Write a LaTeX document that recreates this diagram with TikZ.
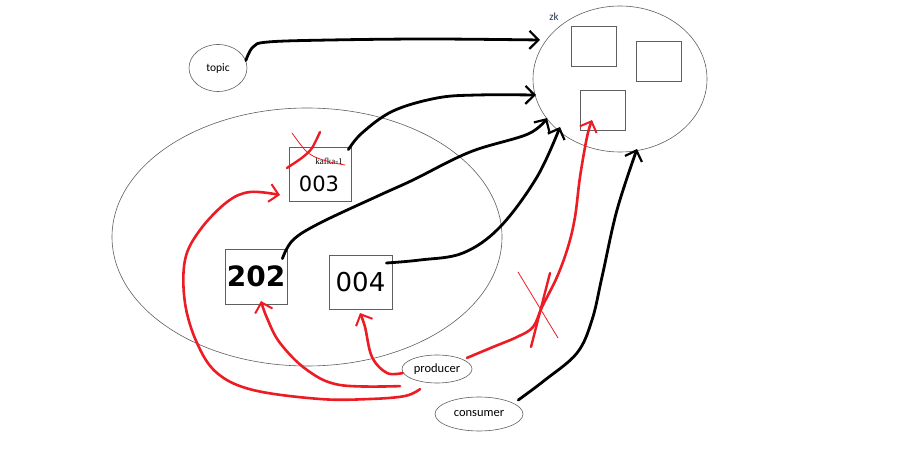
\documentclass[tikz,border=0pt]{standalone}
\usepackage{fontspec}
\setmainfont{Carlito}
\newfontfamily\serifk{Liberation Serif}
\newfontfamily\handf{DejaVu Sans}
\usetikzlibrary{shapes.geometric,arrows.meta,calc}
\definecolor{pred}{RGB}{237,28,36}
\definecolor{boxgray}{RGB}{95,95,95}
\definecolor{zkblue}{RGB}{40,55,85}
\begin{document}
\begin{tikzpicture}[x=1pt,y=-1pt,
  oval/.style={ellipse,draw=boxgray,line width=0.6pt,inner sep=0pt},
  sbox/.style={rectangle,draw=boxgray,line width=0.8pt,inner sep=0pt},
  lbl/.style={font=\fontsize{12.5}{14}\selectfont},
  blk/.style={line width=2.8pt,line cap=round,line join=round,
    -{Straight Barb[length=9pt,width=18pt,line width=2.2pt]}},
  redarr/.style={draw=pred,line width=2.6pt,line cap=round,line join=round,
    -{Straight Barb[length=9pt,width=18pt,line width=2pt]}},
  redthick/.style={draw=pred,line width=2.4pt,line cap=round},
  redthin/.style={draw=pred,line width=0.8pt,line cap=round},
  digit/.style={font=\handf\bfseries\fontsize{28}{28}\selectfont}
]
\useasboundingbox (0,0) rectangle (902,454);

% ellipses
\node[oval,minimum width=390pt,minimum height=258pt] (cluster) at (307,237) {};
\node[oval,minimum width=174pt,minimum height=146pt] (zk) at (620,79) {};
\node[oval,minimum width=58pt,minimum height=47pt,font=\fontsize{11.5}{13}\selectfont] (topic) at (218,68) {topic};
\node[oval,minimum width=70pt,minimum height=28pt,lbl] (producer) at (437,369) {producer};
\node[oval,minimum width=88pt,minimum height=34pt,lbl] (consumer) at (479,414) {consumer};
\node[text=zkblue,font=\fontsize{11}{12}\selectfont] (zklabel) at (554,17) {zk};

% zk boxes
\node[sbox,minimum width=45pt,minimum height=40pt] (z1) at (593.5,46) {};
\node[sbox,minimum width=45pt,minimum height=40pt] (z2) at (658.5,61) {};
\node[sbox,minimum width=45pt,minimum height=40pt] (z3) at (602.5,110) {};

% broker boxes
\node[sbox,minimum width=62pt,minimum height=54pt] (k1) at (320,174) {};
\node[font=\handf\fontsize{21}{21}\selectfont] (k1num) at (319,184) {003};
\node[font=\serifk\fontsize{9}{10}\selectfont] (k1label) at (329,161) {kafka-1};
\node[sbox,minimum width=62pt,minimum height=55pt,digit] (b202) at (256,276.5) {202};
\node[sbox,minimum width=63pt,minimum height=54pt,font=\handf\fontsize{26}{26}\selectfont] (b004) at (360.5,282) {004};

% connector ends
\coordinate (zkA) at (540,40);
\coordinate (zkB) at (536,95);
\coordinate (zkC) at (547,118);
\coordinate (zkD) at (560,127);
\coordinate (zkE) at (637,149);
\coordinate (z3in) at (592,120);
\coordinate (k1in) at (280,195);
\coordinate (b202in) at (261,301);
\coordinate (b004in) at (360,313);

% black connectors
\draw[blk] plot[smooth,tension=0.6] coordinates {(topic.15) (253,47) (268,42) (330,40) (430,39) (zkA)};
\draw[blk] plot[smooth,tension=0.6] coordinates {($(k1.north east)+(-3,3)$) (362,133) (393,111) (437,98) (477,95) (zkB)};
\draw[blk] plot[smooth,tension=0.6] coordinates {($(b202.north east)+(-5,10)$) (293,240) (320,223) (380,195) (413,180) (470,152) (528,134) (zkC)};
\draw[blk] plot[smooth,tension=0.6] coordinates {($(b004.east)+(-6,-19)$) (420,260) (463,253) (500,227) (537,177) (zkD)};
\draw[blk] plot[smooth,tension=0.6] coordinates {($(consumer.east)+(-5,-14)$) (545,380) (577,353) (592,320) (602,277) (617,210) (zkE)};

% red connectors
\draw[redarr] plot[smooth,tension=0.6] coordinates {($(producer.north east)+(5,-1)$) (493,347) (517,337) (533,327) (542,307) (557,277) (568,247) (575,217) (580,177) (587,137) (z3in)};
\draw[redarr] plot[smooth,tension=0.6] coordinates {($(producer.west)+(1,4)$) (387,373) (372,357) (365,327) (b004in)};
\draw[redarr] plot[smooth,tension=0.6] coordinates {($(producer.south west)+(-12,7)$) (340,385) (307,370) (280,343) (267,318) (b202in)};
\draw[redarr] plot[smooth,tension=0.6] coordinates {($(producer.south west)+(8,10)$) (405,396) (370,399) (320,399) (253,390) (217,373) (197,343) (185,303) (185,260) (200,230) (227,202) (250,192) (k1in)};

% red crosses
\draw[redthin] (518,272) -- (558,338);
\draw[redthick] (550,273) -- (531,347);
\draw[redthin] plot[smooth] coordinates {(292,133) (305,150) (315,157) (330,162) (345,165)};
\draw[redthick] plot[smooth] coordinates {(320,132) (312,148) (303,157) (287,168)};
\end{tikzpicture}
\end{document}
